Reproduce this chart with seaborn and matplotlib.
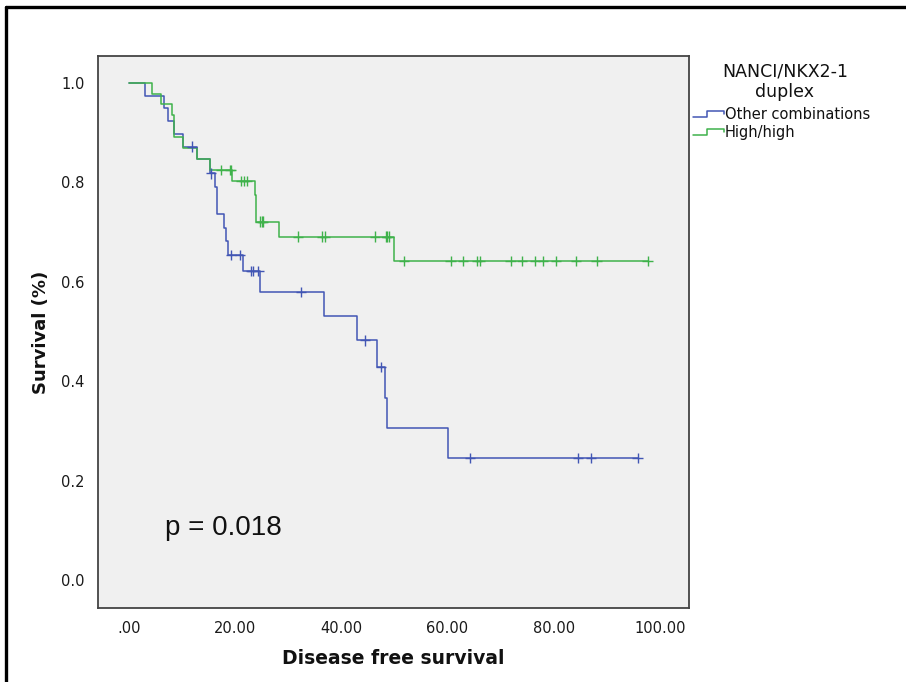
import numpy as np
import pandas as pd
import matplotlib
matplotlib.use("Agg")
import matplotlib.pyplot as plt
import seaborn as sns
from matplotlib.lines import Line2D
from matplotlib.legend_handler import HandlerBase

# step points of the Kaplan-Meier curves (time, survival)
other_t = [0, 3.0, 6.6, 7.4, 8.5, 10.2, 12.9, 15.3, 16.2, 16.6, 17.9, 18.3, 18.6,
           21.5, 24.7, 36.7, 43.0, 46.8, 48.3, 48.6, 60.1, 95.8]
other_s = [1.0, 0.974, 0.949, 0.923, 0.897, 0.872, 0.846, 0.818, 0.791, 0.736, 0.708, 0.681, 0.654,
           0.622, 0.579, 0.531, 0.482, 0.428, 0.367, 0.305, 0.245, 0.245]
other_cens = [11.9, 15.5, 19.2, 21.0, 23.0, 23.3, 24.4, 32.4, 44.5, 47.5, 64.3, 84.6, 87.1, 95.8]

high_t = [0, 4.4, 6.0, 8.2, 8.6, 10.2, 12.9, 15.3, 19.5, 23.7, 24.0, 28.3, 50.0, 97.7]
high_s = [1.0, 0.978, 0.957, 0.935, 0.892, 0.869, 0.847, 0.825, 0.802, 0.775, 0.721, 0.691, 0.642, 0.642]
high_cens = [17.3, 19.0, 19.3, 21.2, 21.7, 22.2, 24.7, 25.1, 25.3, 31.8, 36.4, 37.0, 46.3, 48.4,
             48.6, 49.0, 51.8, 60.6, 63.0, 65.6, 66.1, 71.9, 74.0, 76.5, 78.0, 80.4, 84.2, 88.1, 97.7]

groups = ["Other combinations", "High/high"]
colors = {"Other combinations": "#4256b4", "High/high": "#3fb24b"}


def cens_frame(name, t, s, cens):
    t = np.asarray(t)
    s = np.asarray(s)
    idx = np.searchsorted(t, cens, side="right") - 1
    return pd.DataFrame({"time": cens, "surv": s[idx], "group": name})


curves = pd.concat([
    pd.DataFrame({"time": other_t, "surv": other_s, "group": groups[0]}),
    pd.DataFrame({"time": high_t, "surv": high_s, "group": groups[1]}),
])
marks = pd.concat([
    cens_frame(groups[0], other_t, other_s, other_cens),
    cens_frame(groups[1], high_t, high_s, high_cens),
])

sns.set_style("white")
plt.rcParams["font.family"] = ["DejaVu Sans"]

fig = plt.figure(figsize=(9.06, 6.82), dpi=100)
ax = fig.add_axes([0.1082, 0.1085, 0.6523, 0.8094])
ax.set_facecolor("#f0f0f0")

sns.lineplot(data=curves, x="time", y="surv", hue="group", palette=colors,
             estimator=None, sort=False, drawstyle="steps-post", linewidth=1.1,
             legend=False, ax=ax)
sns.scatterplot(data=marks, x="time", y="surv", hue="group", palette=colors,
                marker="+", s=55, linewidth=1.0, legend=False, ax=ax, zorder=3)

ax.set_xlim(-5.8, 105.5)
ax.set_ylim(-0.056, 1.054)
ax.set_xticks([0, 20, 40, 60, 80, 100])
ax.set_xticklabels([".00", "20.00", "40.00", "60.00", "80.00", "100.00"])
ax.set_yticks([0, 0.2, 0.4, 0.6, 0.8, 1.0])
ax.set_yticklabels(["0.0", "0.2", "0.4", "0.6", "0.8", "1.0"])
ax.tick_params(direction="out", length=6.5, width=1.2, color="#444444",
               labelsize=10.5, labelcolor="#1a1a1a", pad=3)
for sp in ax.spines.values():
    sp.set_color("#444444")
    sp.set_linewidth(1.3)

ax.set_xlabel("Disease free survival", fontsize=13.5, fontweight="bold", labelpad=9,
              color="#111111")
ax.set_ylabel("Survival (%)", fontsize=13, fontweight="bold", labelpad=8, color="#111111")

ax.text(6.8, 0.09, "p = 0.018", fontsize=20, family=["Liberation Sans", "DejaVu Sans"],
        color="#111111")


class StepHandler(HandlerBase):
    def create_artists(self, legend, orig_handle, xdescent, ydescent, width, height, fontsize, trans):
        lo, hi = -ydescent + 0.15 * height, -ydescent + 0.75 * height
        xs = [-xdescent, -xdescent + 0.45 * width, -xdescent + 0.45 * width,
              -xdescent + width, -xdescent + width]
        ys = [lo, lo, hi, hi, 0.45 * height - ydescent]
        line = Line2D(xs, ys, color=orig_handle.get_color(), linewidth=1.1, transform=trans)
        return [line]


# legend title drawn separately so the gap above the entries matches
fig.text(785 / 906, 1 - 82 / 682, "NANCI/NKX2-1\nduplex", ha="center", va="center",
         multialignment="center", fontsize=12.5, color="#111111", linespacing=1.15)

handles = [Line2D([], [], color=colors[g]) for g in groups]
leg = ax.legend(handles, groups, loc="upper left",
                bbox_to_anchor=(693 / 906, 1 - 107 / 682), bbox_transform=fig.transFigure,
                frameon=False, fontsize=10.5,
                handler_map={Line2D: StepHandler()}, handlelength=2.1, handletextpad=0.1,
                labelspacing=0.2, borderaxespad=0, borderpad=0)
for txt in leg.get_texts():
    txt.set_color("#111111")

# black frame around the figure (left and top edges)
fig.add_artist(Line2D([6 / 906, 6 / 906], [0, 1 - 7 / 682], color="black", linewidth=2.4,
                      transform=fig.transFigure))
fig.add_artist(Line2D([6 / 906, 1], [1 - 7 / 682, 1 - 7 / 682], color="black", linewidth=2.4,
                      transform=fig.transFigure))

fig.savefig("out.png", dpi=100, facecolor="white")
